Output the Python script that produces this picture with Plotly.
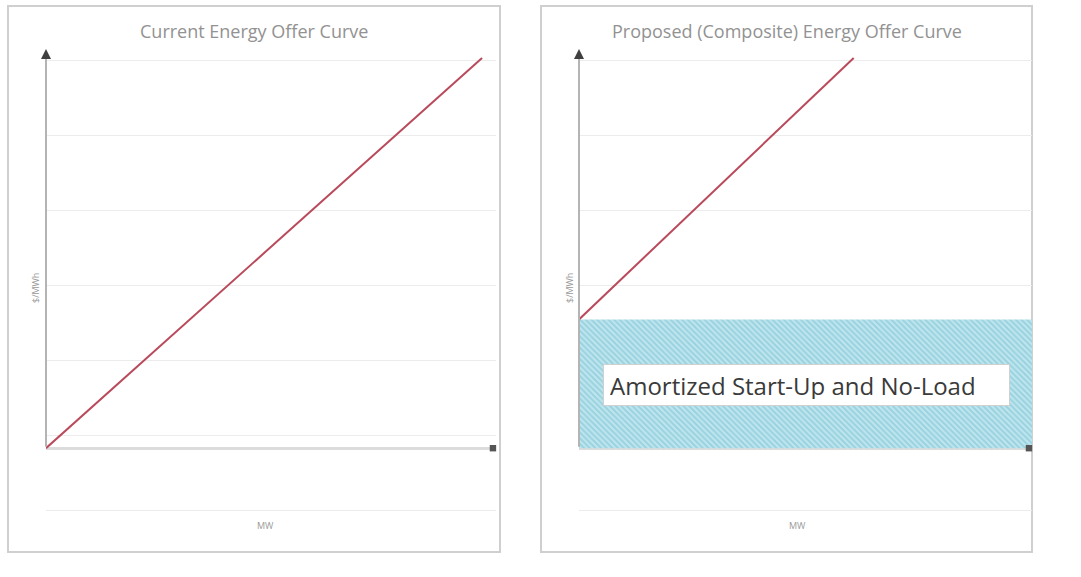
import plotly.graph_objects as go

# ---- data ----
current_mw = [0, 100]
current_price = [0, 100]
proposed_mw = [0, 63]
proposed_price = [33, 100]
amortized_mw = [0, 104]
amortized_price = [33, 33]
titles = ["Current Energy Offer Curve", "Proposed (Composite) Energy Offer Curve"]
x_label = "MW"
y_label = "$/MWh"
band_label = "Amortized Start-Up and No-Load"

W, H = 1081, 577
def px(x):
    return x / W
def py(y):
    return 1 - y / H

RED = "#b94a5c"
GRID = "#ececec"
TXT = "#8a8a8a"
FONT = "Open Sans"

Y_RANGE = [-16.6, 102.8]
fig = go.Figure()

fig.add_trace(go.Scatter(x=current_mw, y=current_price, mode="lines",
                         line=dict(color=RED, width=2), xaxis="x", yaxis="y",
                         showlegend=False, hoverinfo="skip"))
fig.add_trace(go.Scatter(x=amortized_mw, y=amortized_price, mode="lines",
                         line=dict(width=0), fill="tozeroy",
                         fillcolor="#bde6ee",
                         fillpattern=dict(shape="\\", bgcolor="#bfe6ee", fgcolor="#74bdd0",
                                          size=4, solidity=0.5),
                         xaxis="x2", yaxis="y2", showlegend=False, hoverinfo="skip"))
fig.add_trace(go.Scatter(x=proposed_mw, y=proposed_price, mode="lines",
                         line=dict(color=RED, width=2), xaxis="x2", yaxis="y2",
                         showlegend=False, hoverinfo="skip"))

ydom = [py(513), py(47)]
common_y = dict(range=Y_RANGE, showgrid=True, gridcolor=GRID, gridwidth=1,
                tick0=3.3, dtick=19.2, showticklabels=False, ticks="",
                zeroline=True, zerolinecolor="#dcdcdc", zerolinewidth=3,
                showline=False, fixedrange=True)
common_x = dict(showgrid=False, zeroline=False, showticklabels=False, ticks="",
                showline=False, fixedrange=True)

fig.update_layout(
    width=W, height=H,
    margin=dict(l=0, r=0, t=0, b=0),
    paper_bgcolor="white", plot_bgcolor="rgba(0,0,0,0)",
    font=dict(family=FONT, color=TXT),
    xaxis=dict(domain=[px(46), px(496)], range=[0, 103.2], **common_x),
    yaxis=dict(domain=ydom, anchor="x", **common_y),
    xaxis2=dict(domain=[px(579), px(1032)], range=[0, 103.9], anchor="y2", **common_x),
    yaxis2=dict(domain=ydom, anchor="x2", **common_y),
)

# panel borders
for x0, x1 in [(8, 500), (541, 1032)]:
    fig.add_shape(type="rect", xref="paper", yref="paper",
                  x0=px(x0), x1=px(x1), y0=py(552), y1=py(6),
                  line=dict(color="#cfcfcf", width=2), fillcolor="rgba(0,0,0,0)",
                  layer="below")

annotations = []
for i, (xa, ya, tx, cx) in enumerate([("x", "y", 254, 265), ("x2", "y2", 787, 797)]):
    annotations.append(dict(text=titles[i], xref="paper", yref="paper",
                            x=px(tx), y=py(31), xanchor="center", yanchor="middle",
                            showarrow=False, font=dict(size=18, color="#929292", family=FONT)))
    annotations.append(dict(text=x_label, xref="paper", yref="paper",
                            x=px(cx), y=py(525), xanchor="center", yanchor="middle",
                            showarrow=False, font=dict(size=9, color="#9a9a9a", family=FONT)))
    ylx = 35 if i == 0 else 569
    annotations.append(dict(text=y_label, xref="paper", yref="paper",
                            x=px(ylx), y=py(288), xanchor="center", yanchor="middle",
                            textangle=-90, showarrow=False,
                            font=dict(size=9, color="#9a9a9a", family=FONT)))
    # y axis line
    annotations.append(dict(x=0, y=101.5, ax=0, ay=0, xref=xa, yref=ya, axref=xa, ayref=ya,
                            text="", showarrow=True, arrowhead=0, arrowwidth=2,
                            arrowcolor="#b4b4b4"))
    annotations.append(dict(x=0, y=102.3, ax=0, ay=99.5, xref=xa, yref=ya, axref=xa, ayref=ya,
                            text="", showarrow=True, arrowhead=2, arrowsize=1, arrowwidth=2,
                            arrowcolor="#404040"))
# x axis end markers
annotations.append(dict(x=102.5, y=0, ax=101.5, ay=0, xref="x", yref="y", axref="x", ayref="y",
                        text="", showarrow=True, arrowhead=7, arrowsize=0.8, arrowwidth=2,
                        arrowcolor="#555555"))
annotations.append(dict(x=103.2, y=0, ax=102.2, ay=0, xref="x2", yref="y2", axref="x2", ayref="y2",
                        text="", showarrow=True, arrowhead=7, arrowsize=0.8, arrowwidth=2,
                        arrowcolor="#555555"))
# band label box
annotations.append(dict(text=band_label, xref="x2", yref="y2", x=5.5, y=16.3,
                        xanchor="left", yanchor="middle", align="left",
                        width=393, height=28, borderpad=6,
                        bgcolor="white", bordercolor="#d0d0d0", borderwidth=1,
                        showarrow=False, font=dict(size=24, color="#3a3a3a", family=FONT)))

fig.update_layout(annotations=annotations)

fig.write_html("out.html", config={"displayModeBar": False},
               post_script="document.body.style.margin='0';document.body.style.padding='0';")
